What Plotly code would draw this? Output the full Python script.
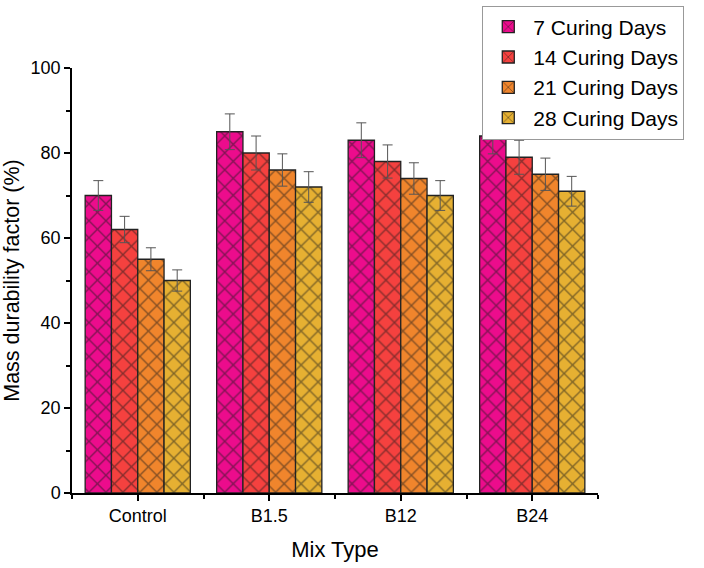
import plotly.graph_objects as go

categories = ["Control", "B1.5", "B12", "B24"]
series_names = ["7 Curing Days", "14 Curing Days", "21 Curing Days", "28 Curing Days"]
values = [
    [70, 85, 83, 84],
    [62, 80, 78, 79],
    [55, 76, 74, 75],
    [50, 72, 70, 71],
]
errors = [
    [3.5, 4.2, 4.1, 4.2],
    [3.1, 4.0, 3.9, 4.0],
    [2.7, 3.8, 3.7, 3.8],
    [2.5, 3.6, 3.5, 3.5],
]
colors = ["#EC0C8C", "#F5413F", "#F0852C", "#E6B032"]

xpos = list(range(len(categories)))

fig = go.Figure()
for name, vals, errs, col in zip(series_names, values, errors, colors):
    fig.add_trace(go.Bar(
        x=xpos, y=vals, name=name,
        marker=dict(color=col, line=dict(color="#222222", width=1.3),
                    pattern=dict(shape="x", fgcolor="#1a1a1a", size=12, solidity=0.22, fillmode="overlay")),
        error_y=dict(type="data", array=errs, visible=True, color="#555555", thickness=1, width=5),
    ))

font_family = "Arial, Liberation Sans, sans-serif"
fig.update_layout(
    width=704, height=568,
    barmode="group", bargap=0.2, bargroupgap=0,
    plot_bgcolor="white", paper_bgcolor="white",
    margin=dict(l=72, r=106, t=68, b=75, autoexpand=False),
    font=dict(family=font_family, color="black"),
    showlegend=True,
    legend=dict(x=0.78, y=1.147, xanchor="left", yanchor="top",
                font=dict(size=21, family=font_family), bordercolor="#999999", borderwidth=1,
                bgcolor="white", tracegroupgap=0, itemwidth=40),
    xaxis=dict(range=[-0.5, 3.5], tickvals=xpos, ticktext=categories,
               showline=True, linecolor="black", linewidth=1.5, ticks="outside", ticklen=6,
               tickwidth=1.5, tickcolor="black", showgrid=False, zeroline=False,
               tickfont=dict(size=18),
               minor=dict(tickvals=[-0.5, 0.5, 1.5, 2.5, 3.5], ticks="outside", ticklen=4, tickwidth=1.5, tickcolor="black"),
               title=dict(text="Mix Type", font=dict(size=22), standoff=16)),
    yaxis=dict(range=[0, 100], dtick=20, showline=True, linecolor="black", linewidth=1.5,
               ticks="outside", ticklen=6, tickwidth=1.5, tickcolor="black", showgrid=False,
               zeroline=False, tickfont=dict(size=18),
               minor=dict(dtick=10, ticks="outside", ticklen=4, tickwidth=1.5, tickcolor="black"),
               title=dict(text="Mass durability factor (%)", font=dict(size=21.5), standoff=10)),
)

fig.write_html("out.html")
